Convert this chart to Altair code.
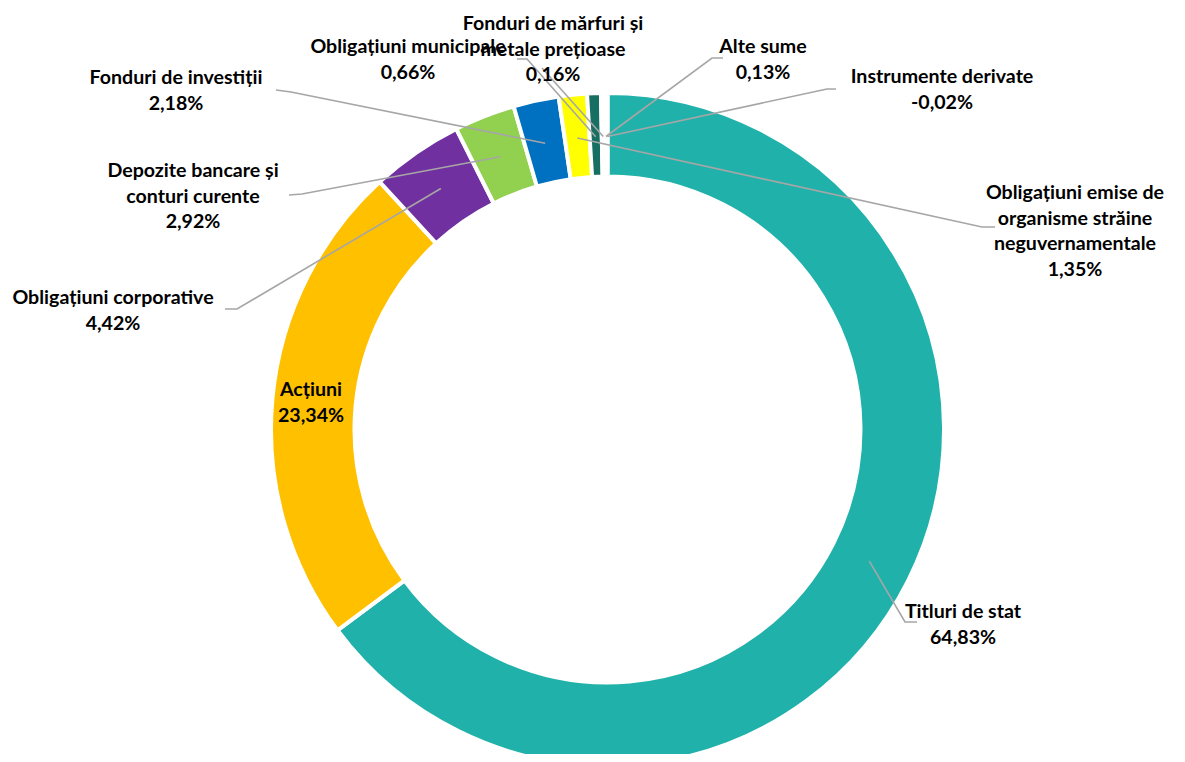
import math
import altair as alt
import pandas as pd

# ---- data ----
names = [
    "Titluri de stat", "Acțiuni", "Obligațiuni corporative",
    "Depozite bancare și conturi curente", "Fonduri de investiții",
    "Obligațiuni emise de organisme străine neguvernamentale",
    "Obligațiuni municipale", "Fonduri de mărfuri și metale prețioase",
    "Alte sume", "Instrumente derivate",
]
values = [64.83, 23.34, 4.42, 2.92, 2.18, 1.35, 0.66, 0.16, 0.13, -0.02]
label_lines = [
    ["Titluri de stat"], ["Acțiuni"], ["Obligațiuni corporative"],
    ["Depozite bancare și", "conturi curente"], ["Fonduri de investiții"],
    ["Obligațiuni emise de", "organisme străine", "neguvernamentale"],
    ["Obligațiuni municipale"], ["Fonduri de mărfuri și", "metale prețioase"],
    ["Alte sume"], ["Instrumente derivate"],
]

# ---- styles / layout ----
colors = ["#20B2AA", "#FFC000", "#7030A0", "#92D050", "#0070C0",
          "#FFFF00", "#176F62", "#FFFFFF", "#FFFFFF", "#FFFFFF"]
W, H = 1169, 746
OFF = 8
CX, CY = 607.5, 429.5
R_OUT, R_IN = 336.5, 253
R_LEAD = 293
LH = 25.5
FONT = "Lato"
FS = 19.6

# label centre x and first-line y (page px)
label_pos = [(963, 612), (311, 390), (113, 298), (193, 171), (176, 78),
             (1075, 193), (408, 47), (553, 24), (763, 47), (942, 77)]
# leader line points from label side (page px); slice end computed from data
leader_pts = [
    [(917, 622), (905, 622)],
    None,
    [(225, 309), (237, 309)],
    [(289, 195), (302, 194)],
    [(276, 90), (291, 92)],
    [(995, 227), (982, 227)],
    [(517, 59), (527, 59)],
    [(542, 68)],
    [(723, 58), (712, 58)],
    [(836, 89), (827, 89)],
]

abs_vals = [abs(v) for v in values]
total = sum(abs_vals)

arc_df = pd.DataFrame({"name": names, "share": abs_vals, "idx": list(range(len(names)))})

text_rows = []
line_rows = []
cum = 0.0
for i, (n, v) in enumerate(zip(names, values)):
    mid = cum + abs_vals[i] / 2
    cum += abs_vals[i]
    a = mid / total * 2 * math.pi
    sx = CX + R_LEAD * math.sin(a)
    sy = CY - R_LEAD * math.cos(a)
    lines = label_lines[i] + [f"{v:.2f}".replace(".", ",") + "%"]
    lx, ly = label_pos[i]
    for k, t in enumerate(lines):
        text_rows.append({"t": t, "x": lx - OFF, "y": ly + k * LH - OFF})
    if leader_pts[i]:
        pts = leader_pts[i] + [(sx, sy)]
        for k, (px, py) in enumerate(pts):
            line_rows.append({"name": n, "seq": k, "x": px - OFF, "y": py - OFF})

text_df = pd.DataFrame(text_rows)
line_df = pd.DataFrame(line_rows)

arc = alt.Chart(arc_df).mark_arc(
    outerRadius=R_OUT, innerRadius=R_IN, stroke="white", strokeWidth=4
).encode(
    theta=alt.Theta("share:Q", stack=True),
    color=alt.Color("name:N", scale=alt.Scale(domain=names, range=colors), legend=None),
    order=alt.Order("idx:Q"),
    x=alt.value(CX - OFF),
    y=alt.value(CY - OFF),
)

leaders = alt.Chart(line_df).mark_line(color="#A6A6A6", strokeWidth=1.6).encode(
    x=alt.X("x:Q", scale=None, axis=None),
    y=alt.Y("y:Q", scale=None, axis=None),
    detail="name:N",
    order="seq:Q",
)

texts = alt.Chart(text_df).mark_text(
    font=FONT, fontWeight="bold", fontSize=FS, align="center", baseline="middle", color="#000000"
).encode(
    x=alt.X("x:Q", scale=None, axis=None),
    y=alt.Y("y:Q", scale=None, axis=None),
    text="t:N",
)

chart = alt.layer(arc, leaders, texts).properties(
    width=W, height=H, autosize="none", padding=0
).configure_view(stroke=None)

chart.save("out.html", embed_options={"renderer": "svg", "actions": False})
